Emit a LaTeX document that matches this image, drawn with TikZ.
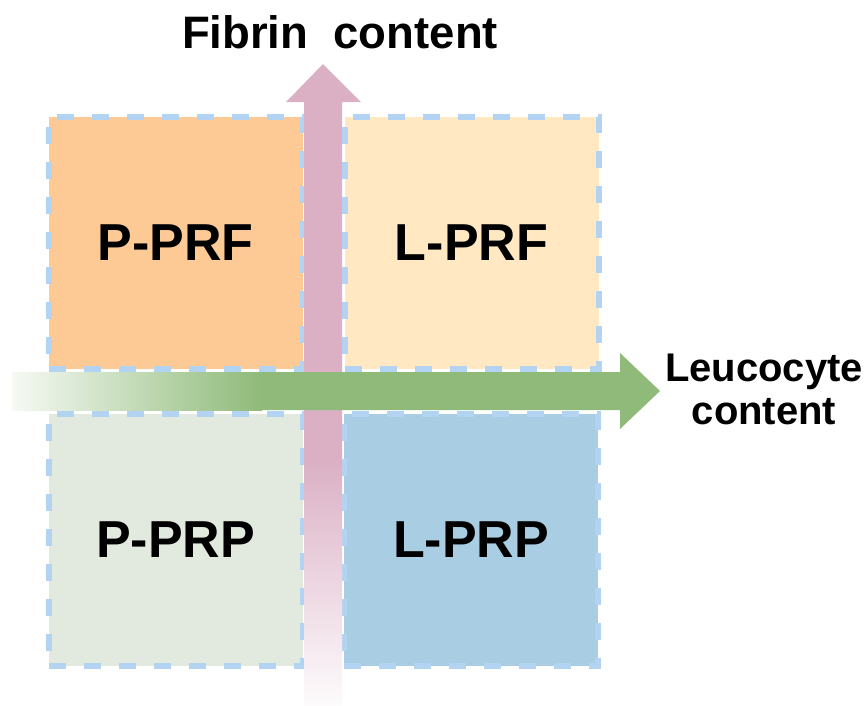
\documentclass[tikz,border=0pt]{standalone}
\usepackage{fontspec}
\setmainfont{Liberation Sans}
\definecolor{orangec}{HTML}{FDCA96}
\definecolor{creamc}{HTML}{FFE8C2}
\definecolor{sagec}{HTML}{E2E9DF}
\definecolor{bluec}{HTML}{A9CDE2}
\definecolor{dashc}{HTML}{B3D3F2}
\definecolor{pinkc}{HTML}{DBB0C5}
\definecolor{greenc}{HTML}{8FBA79}
\tikzset{
  quad/.style={draw=dashc, line width=6pt, dash pattern=on 17pt off 18pt,
    minimum width=254pt, minimum height=252pt, inner sep=0pt,
    font=\bfseries\fontsize{52}{56}\selectfont, text=black},
  axislabel/.style={font=\bfseries\fontsize{#1}{43}\selectfont, text=black, inner sep=0pt, align=center}
}
\begin{document}
\begin{tikzpicture}[x=1pt,y=-1pt]
\useasboundingbox (0,0) rectangle (864,705);
% quadrant boxes
\node[quad, fill=orangec] (pprf) at (175.5,242.5) {P-PRF};
\node[quad, fill=creamc]  (lprf) at (471.5,242.5) {L-PRF};
\node[quad, fill=sagec]   (pprp) at (175.5,539.5) {P-PRP};
\node[quad, fill=bluec]   (lprp) at (471,539.5) {L-PRP};
% vertical (fibrin) arrow
\coordinate (ftip) at (323,64);
\fill[pinkc] (ftip) -- (361,102) -- (342,102) -- (342,461) -- (304,461) -- (304,102) -- (286,102) -- cycle;
\shade[top color=pinkc, bottom color=pinkc!5] (304,460) rectangle (342,705);
% horizontal (leucocyte) arrow
\coordinate (ltip) at (660,391);
\shade[left color=greenc!8, right color=greenc] (12,372) rectangle (262,410);
\fill[greenc] (261,372) -- (620,372) -- (620,353) -- (ltip) -- (620,429) -- (620,410) -- (261,410) -- cycle;
% axis labels
\node[axislabel=45.5, anchor=base] (fib) at (340,48) {Fibrin~~content};
\node[axislabel=40] (leu) at (764,389) {Leucocyte\\content};
\end{tikzpicture}
\end{document}
